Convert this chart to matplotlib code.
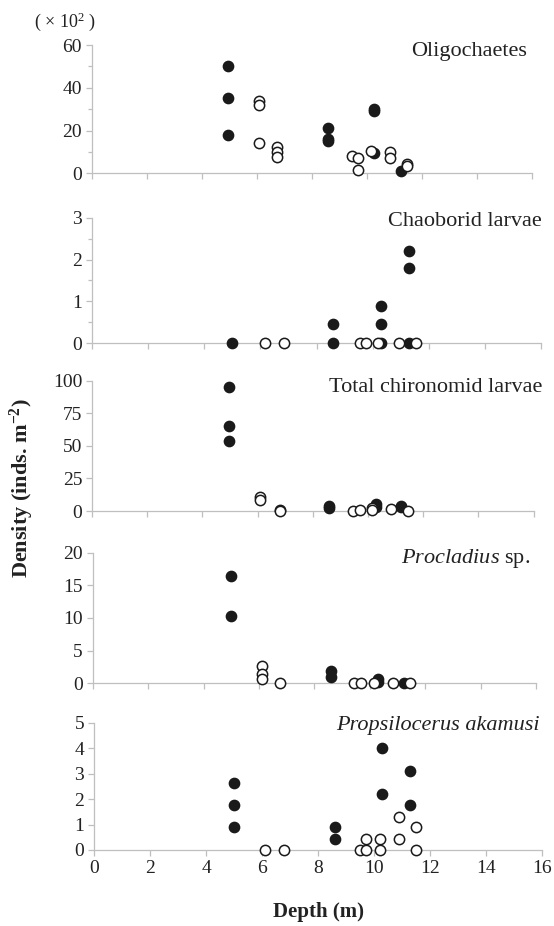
import matplotlib
matplotlib.use("Agg")
import matplotlib.pyplot as plt
from matplotlib.ticker import MultipleLocator

plt.rcParams['font.family'] = ['Liberation Serif', 'DejaVu Serif']
plt.rcParams['mathtext.fontset'] = 'custom'
plt.rcParams['mathtext.rm'] = 'Liberation Serif'
plt.rcParams['mathtext.it'] = 'Liberation Serif:italic'
plt.rcParams['mathtext.bf'] = 'Liberation Serif:bold'
plt.rcParams['mathtext.default'] = 'regular'

# Oligochaetes (x10^2)
oli_f_x = [4.95, 4.95, 4.95, 8.6, 8.6, 8.6, 10.25, 10.25, 10.25, 11.25]
oli_f_y = [50, 35, 18, 21, 16, 15, 30, 29, 9.5, 1]
oli_o_x = [6.1, 6.1, 6.1, 6.75, 6.75, 6.75, 9.45, 9.7, 9.7, 10.15, 10.85, 10.85, 11.45, 11.45]
oli_o_y = [34, 32, 14, 12.5, 10, 7.5, 8, 7, 1.5, 10.5, 10, 7, 4.5, 3.5]

# Chaoborid larvae
chao_f_x = [5.0, 8.6, 8.6, 10.3, 10.3, 10.3, 11.3, 11.3, 11.3]
chao_f_y = [0, 0, 0.45, 0, 0.45, 0.9, 0, 1.8, 2.2]
chao_o_x = [6.15, 6.85, 9.55, 9.75, 10.2, 10.95, 11.55]
chao_o_y = [0, 0, 0, 0, 0, 0, 0]

# Total chironomid larvae
chir_f_x = [4.95, 4.95, 4.95, 8.6, 8.6, 10.3, 10.3, 11.2, 11.2]
chir_f_y = [95, 65, 53.5, 4, 2, 5, 3, 4, 3]
chir_o_x = [6.1, 6.1, 6.8, 6.8, 9.45, 9.7, 10.15, 10.15, 10.85, 11.45]
chir_o_y = [11, 8.5, 1, 0, 0, 0.5, 2, 0.5, 1.5, 0]

# Procladius sp.
proc_f_x = [4.98, 4.98, 8.6, 8.6, 10.3, 10.3, 11.25]
proc_f_y = [16.5, 10.25, 1.9, 1.0, 0.7, 0.2, 0.1]
proc_o_x = [6.1, 6.1, 6.1, 6.75, 9.45, 9.7, 10.15, 10.85, 11.45]
proc_o_y = [2.7, 1.5, 0.6, 0, 0, 0, 0, 0, 0]

# Propsilocerus akamusi
prop_f_x = [5.0, 5.0, 5.0, 8.6, 8.6, 10.3, 10.3, 11.3, 11.3]
prop_f_y = [2.65, 1.75, 0.9, 0.9, 0.45, 4.0, 2.2, 3.1, 1.75]
prop_o_x = [6.1, 6.8, 9.5, 9.7, 9.7, 10.2, 10.2, 10.9, 10.9, 11.5, 11.5]
prop_o_y = [0, 0, 0, 0, 0.45, 0.45, 0, 1.3, 0.45, 0.9, 0]

titles = ["Oligochaetes", "Chaoborid larvae", "Total chironomid larvae",
          "$\\mathit{Procladius}$ sp.", "Propsilocerus akamusi"]

panels = [
    (oli_f_x, oli_f_y, oli_o_x, oli_o_y, 60, 20, 10),
    (chao_f_x, chao_f_y, chao_o_x, chao_o_y, 3, 1, 0.5),
    (chir_f_x, chir_f_y, chir_o_x, chir_o_y, 100, 25, None),
    (proc_f_x, proc_f_y, proc_o_x, proc_o_y, 20, 5, None),
    (prop_f_x, prop_f_y, prop_o_x, prop_o_y, 5, 1, None),
]

W, H = 554, 926
# axes boxes in pixels: left, top, right, bottom
boxes = [(91.7, 45, 531.7, 173.3),
         (91.7, 217.7, 541.3, 343.3),
         (92, 380.7, 533.6, 511),
         (92.7, 552.7, 535.9, 683.3),
         (94, 722.7, 542, 850)]
title_pos = [(0.99, 0.953), (1.0, 0.966), (1.02, 0.944), (0.987, 0.952), (0.995, 0.98)]

fig = plt.figure(figsize=(W / 100, H / 100), dpi=100)
axc = '#bfbfbf'
for i, (fx, fy, ox, oy, ymax, major, minor) in enumerate(panels):
    l, t, r, b = boxes[i]
    ax = fig.add_axes([l / W, 1 - b / H, (r - l) / W, (b - t) / H])
    ax.scatter(fx, fy, s=55, color='#1a1a1a', zorder=3, clip_on=False)
    ax.scatter(ox, oy, s=55, facecolor='white', edgecolor='#1a1a1a',
               linewidth=1.1, zorder=4, clip_on=False)
    ax.set_xlim(0, 16)
    ax.set_ylim(0, ymax)
    ax.xaxis.set_major_locator(MultipleLocator(2))
    ax.yaxis.set_major_locator(MultipleLocator(major))
    if minor:
        ax.yaxis.set_minor_locator(MultipleLocator(minor))
    for s in ['top', 'right']:
        ax.spines[s].set_visible(False)
    for s in ['left', 'bottom']:
        ax.spines[s].set_color(axc)
        ax.spines[s].set_linewidth(0.9)
    ax.tick_params(which='major', direction='out', length=4, width=0.9,
                   color=axc, labelsize=14, labelcolor='#222222', pad=3)
    ax.tick_params(which='minor', direction='out', length=3, width=0.9, color=axc)
    if i < 4:
        ax.tick_params(axis='x', labelbottom=False)
    tx, ty = title_pos[i]
    ax.text(tx, ty, titles[i], transform=ax.transAxes, ha='right', va='center',
            fontsize=16, color='#222222',
            fontstyle='italic' if i == 4 else 'normal')

fig.text(65 / W, 1 - 22 / H, "( × 10$^{2}$ )", ha='center', va='center',
         fontsize=13, color='#222222')
fig.text(22 / W, 1 - 488 / H, "Density (inds. m$^{-2}$)", rotation=90,
         ha='center', va='center', fontsize=16, fontweight='bold', color='#222222')
fig.text(318 / W, 1 - 912 / H, "Depth (m)", ha='center', va='center',
         fontsize=15, fontweight='bold', color='#222222')

fig.savefig("out.png", dpi=100)
